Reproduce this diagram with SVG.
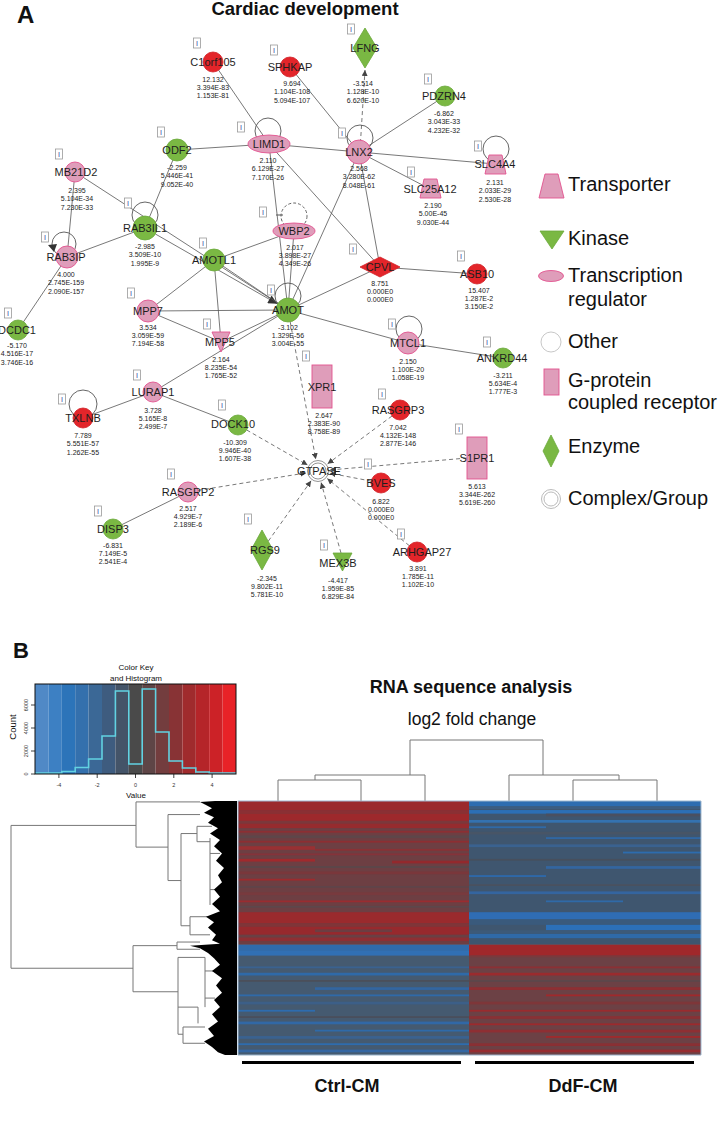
<svg xmlns="http://www.w3.org/2000/svg" xmlns:xlink="http://www.w3.org/1999/xlink" width="718" height="1122" viewBox="0 0 718 1122">
<style>
text{font-family:"Liberation Sans",Arial,sans-serif}
.lbl{font-size:11px;fill:#1e1e1e;text-anchor:middle}
.val{font-size:7px;fill:#222;text-anchor:middle}
.red{fill:#e3252a;stroke:#d02026;stroke-width:0.8}
.grn{fill:#7ab843;stroke:#6aa83a;stroke-width:0.8}
.pnk{fill:#df9dba;stroke:#e2528e;stroke-width:0.9}
.loop{fill:none;stroke:#555;stroke-width:0.9}
.e{stroke:#555;stroke-width:0.8;fill:none}
.d{stroke-dasharray:4 3}
.leg{font-size:20px;fill:#111}
.dg{stroke:#777;stroke-width:1;fill:none;vector-effect:non-scaling-stroke}
</style>
<defs>
<g id="ib"><rect x="0" y="0" width="7" height="10" fill="#fff" stroke="#9a9a9a" stroke-width="0.8"/><text x="3.5" y="8" font-size="7" fill="#2b3a9a" text-anchor="middle">I</text></g>
<marker id="ah" viewBox="0 0 10 10" refX="10" refY="5" markerWidth="6" markerHeight="6" orient="auto" markerUnits="userSpaceOnUse"><path d="M0,0 L10,5 L0,10 z" fill="#444"/></marker>
<marker id="ah2" viewBox="0 0 10 10" refX="10" refY="5" markerWidth="10" markerHeight="9" orient="auto" markerUnits="userSpaceOnUse"><path d="M0,0 L10,5 L0,10 z" fill="#333"/></marker>
</defs>
<rect width="718" height="1122" fill="#fff"/>

<text x="17" y="23" font-size="24" font-weight="bold" fill="#111">A</text>
<text x="305" y="15" font-size="18.5" font-weight="bold" fill="#111" text-anchor="middle">Cardiac development</text>

<g id="connectors">
<line class="e" x1="213" y1="62" x2="269" y2="144"/>
<line class="e" x1="290" y1="67" x2="359" y2="152"/>
<line class="e" x1="445" y1="96" x2="359" y2="152"/>
<line class="e" x1="359" y1="152" x2="430" y2="189"/>
<line class="e" x1="359" y1="152" x2="495" y2="164"/>
<line class="e" x1="177" y1="150" x2="269" y2="144"/>
<line class="e" x1="269" y1="144" x2="359" y2="152"/>
<line class="e" x1="177" y1="150" x2="145" y2="228"/>
<line class="e" x1="75" y1="172" x2="67" y2="257"/>
<line class="e" x1="75" y1="172" x2="288" y2="310"/>
<line class="e" x1="145" y1="228" x2="67" y2="257"/>
<line class="e" x1="155.4" y1="234" x2="277.2" y2="303.8" marker-end="url(#ah2)"/>
<line class="e" x1="67" y1="257" x2="18" y2="330"/>
<line class="e" x1="214" y1="260" x2="288" y2="310"/>
<line class="e" x1="214" y1="260" x2="148" y2="311"/>
<line class="e" x1="214" y1="260" x2="221" y2="342"/>
<line class="e" x1="148" y1="311" x2="221" y2="342"/>
<line class="e" x1="148" y1="311" x2="288" y2="310"/>
<line class="e" x1="221" y1="342" x2="288" y2="310"/>
<line class="e" x1="153" y1="392" x2="288" y2="310"/>
<line class="e" x1="83" y1="418" x2="153" y2="392"/>
<line class="e" x1="153" y1="392" x2="238" y2="425"/>
<line class="e" x1="269" y1="144" x2="288" y2="310"/>
<line class="e" x1="269" y1="144" x2="380" y2="267"/>
<line class="e" x1="359" y1="152" x2="288" y2="310"/>
<line class="e" x1="359" y1="152" x2="380" y2="267"/>
<line class="e" x1="294" y1="231" x2="214" y2="260"/>
<line class="e" x1="294" y1="231" x2="288" y2="310"/>
<line class="e" x1="380" y1="267" x2="288" y2="310"/>
<line class="e" x1="380" y1="267" x2="477" y2="274"/>
<line class="e" x1="288" y1="310" x2="408" y2="343"/>
<line class="e" x1="408" y1="343" x2="503" y2="358"/>
<line class="e" x1="188" y1="492" x2="113" y2="529"/>
<line class="e d" x1="360" y1="150" x2="365" y2="70" marker-end="url(#ah)"/>
<line class="e d" x1="290.2" y1="321.8" x2="315.8" y2="459.2" marker-end="url(#ah)"/>
<line class="e d" x1="246.7" y1="430" x2="307.6" y2="465" marker-end="url(#ah)"/>
<line class="e d" x1="392" y1="416" x2="327.6" y2="463.8" marker-end="url(#ah)"/>
<line class="e d" x1="467" y1="458" x2="330" y2="470" marker-end="url(#ah)"/>
<line class="e d" x1="371.2" y1="481.1" x2="329.8" y2="473.2" marker-end="url(#ah)"/>
<line class="e d" x1="409.3" y1="545.7" x2="327.3" y2="478.6" marker-end="url(#ah)"/>
<line class="e d" x1="341" y1="553" x2="321.1" y2="482.6" marker-end="url(#ah)"/>
<line class="e d" x1="268.4" y1="541" x2="311.1" y2="480.8" marker-end="url(#ah)"/>
<line class="e d" x1="197.9" y1="490.4" x2="306.2" y2="472.9" marker-end="url(#ah)"/>
</g>

<g id="n-C1orf105"><circle class="red" cx="213" cy="62" r="10"/><text class="lbl" x="213" y="66">C1orf105</text><text class="val" x="213" y="81.5">12.132<tspan x="213" dy="8.4">3.394E-83</tspan><tspan x="213" dy="8.4">1.153E-81</tspan></text><use href="#ib" x="193.5" y="38"/></g>
<g id="n-SPHKAP"><circle class="red" cx="290" cy="67" r="10"/><text class="lbl" x="290" y="71">SPHKAP</text><text class="val" x="292" y="86">9.694<tspan x="292" dy="8.4">1.104E-108</tspan><tspan x="292" dy="8.4">5.094E-107</tspan></text><use href="#ib" x="270.5" y="45"/></g>
<g id="n-LFNG"><polygon class="grn" points="365,28 377,48 365,68 353,48"/><text class="lbl" x="365" y="52">LFNG</text><text class="val" x="363" y="86">-3.514<tspan x="363" dy="8.4">1.128E-10</tspan><tspan x="363" dy="8.4">6.620E-10</tspan></text><use href="#ib" x="347.5" y="24"/></g>
<g id="n-PDZRN4"><circle class="grn" cx="445" cy="96" r="10"/><text class="lbl" x="444" y="100">PDZRN4</text><text class="val" x="444" y="116">-6.862<tspan x="444" dy="8.4">3.043E-33</tspan><tspan x="444" dy="8.4">4.232E-32</tspan></text><use href="#ib" x="424.5" y="74"/></g>
<g id="n-LIMD1"><circle class="loop" cx="268" cy="131" r="13"/><ellipse class="pnk" cx="269" cy="144" rx="21" ry="9"/><text class="lbl" x="269" y="148">LIMD1</text><text class="val" x="268" y="163">2.110<tspan x="268" dy="8.4">6.129E-27</tspan><tspan x="268" dy="8.4">7.170E-26</tspan></text><use href="#ib" x="237.5" y="122"/></g>
<g id="n-LNX2"><circle class="loop" cx="360" cy="138" r="13"/><circle class="pnk" cx="359" cy="152" r="12"/><text class="lbl" x="359" y="156">LNX2</text><text class="val" x="359" y="171">2.568<tspan x="359" dy="8.4">3.280E-62</tspan><tspan x="359" dy="8.4">8.048E-61</tspan></text><use href="#ib" x="338.5" y="128"/></g>
<g id="n-ODF2"><circle class="grn" cx="177" cy="150" r="11"/><text class="lbl" x="177" y="154">ODF2</text><text class="val" x="177" y="170">-2.259<tspan x="177" dy="8.4">5.446E-41</tspan><tspan x="177" dy="8.4">9.052E-40</tspan></text><use href="#ib" x="157.5" y="127"/></g>
<g id="n-MB21D2"><circle class="pnk" cx="75" cy="172" r="10"/><text class="lbl" x="76" y="176">MB21D2</text><text class="val" x="77" y="193">2.395<tspan x="77" dy="8.4">5.104E-34</tspan><tspan x="77" dy="8.4">7.230E-33</tspan></text><use href="#ib" x="55.5" y="149"/></g>
<g id="n-SLC25A12"><polygon class="pnk" points="424,179 437,179 441,198 420,198"/><text class="lbl" x="430" y="193">SLC25A12</text><text class="val" x="433" y="208">2.190<tspan x="433" dy="8.4">5.00E-45</tspan><tspan x="433" dy="8.4">9.030E-44</tspan></text><use href="#ib" x="407.5" y="167"/></g>
<g id="n-SLC4A4"><circle class="loop" cx="496" cy="149" r="13"/><polygon class="pnk" points="489,155 502,155 506,174 485,174"/><text class="lbl" x="495" y="168">SLC4A4</text><text class="val" x="495" y="185">2.131<tspan x="495" dy="8.4">2.033E-29</tspan><tspan x="495" dy="8.4">2.530E-28</tspan></text><use href="#ib" x="474.5" y="141"/></g>
<g id="n-RAB3IL1"><circle class="loop" cx="145" cy="215" r="13"/><circle class="grn" cx="145" cy="228" r="12"/><text class="lbl" x="145" y="232">RAB3IL1</text><text class="val" x="145" y="249">-2.985<tspan x="145" dy="8.4">3.509E-10</tspan><tspan x="145" dy="8.4">1.995E-9</tspan></text><use href="#ib" x="124.5" y="198"/></g>
<g id="n-RAB3IP"><circle class="loop" cx="64" cy="244" r="12"/><polygon points="48,245 57,244 54,252" fill="#333"/><circle class="pnk" cx="67" cy="257" r="11"/><text class="lbl" x="66" y="261">RAB3IP</text><text class="val" x="66" y="277">4.000<tspan x="66" dy="8.4">2.745E-159</tspan><tspan x="66" dy="8.4">2.090E-157</tspan></text><use href="#ib" x="41.5" y="232"/></g>
<g id="n-DCDC1"><circle class="grn" cx="18" cy="330" r="10"/><text class="lbl" x="17" y="334">DCDC1</text><text class="val" x="17" y="348">-5.170<tspan x="17" dy="8.4">4.516E-17</tspan><tspan x="17" dy="8.4">3.746E-16</tspan></text><use href="#ib" x="4.5" y="308"/></g>
<g id="n-AMOTL1"><circle class="grn" cx="214" cy="260" r="11"/><text class="lbl" x="214" y="264">AMOTL1</text><use href="#ib" x="199.5" y="238"/></g>
<g id="n-WBP2"><circle class="loop" cx="294" cy="216" r="13" stroke-dasharray="3 2"/><line x1="276" y1="215" x2="283" y2="215" stroke="#555" stroke-width="1"/><ellipse class="pnk" cx="294" cy="231" rx="21" ry="8"/><text class="lbl" x="294" y="235">WBP2</text><text class="val" x="295" y="249.5">2.017<tspan x="295" dy="8.4">3.898E-27</tspan><tspan x="295" dy="8.4">4.349E-26</tspan></text><use href="#ib" x="259.5" y="207"/></g>
<g id="n-CPVL"><polygon class="red" points="360,267 380,257 400,267 380,277"/><text class="lbl" x="380" y="271">CPVL</text><text class="val" x="380" y="285.5">8.751<tspan x="380" dy="8.4">0.000E0</tspan><tspan x="380" dy="8.4">0.000E0</tspan></text><use href="#ib" x="349.5" y="244"/></g>
<g id="n-ASB10"><circle class="red" cx="477" cy="274" r="10"/><text class="lbl" x="477" y="278">ASB10</text><text class="val" x="479" y="292.5">15.407<tspan x="479" dy="8.4">1.287E-2</tspan><tspan x="479" dy="8.4">3.150E-2</tspan></text><use href="#ib" x="457.5" y="251"/></g>
<g id="n-AMOT"><circle class="loop" cx="288" cy="296" r="13"/><circle class="grn" cx="288" cy="310" r="12"/><text class="lbl" x="288" y="314">AMOT</text><text class="val" x="288" y="329.5">-3.102<tspan x="288" dy="8.4">1.329E-56</tspan><tspan x="288" dy="8.4">3.004E-55</tspan></text><use href="#ib" x="267.5" y="285"/></g>
<g id="n-MPP7"><circle class="pnk" cx="148" cy="311" r="11"/><text class="lbl" x="148" y="315">MPP7</text><text class="val" x="148" y="329.5">3.534<tspan x="148" dy="8.4">3.059E-59</tspan><tspan x="148" dy="8.4">7.194E-58</tspan></text><use href="#ib" x="127.5" y="288"/></g>
<g id="n-MPP5"><polygon class="pnk" points="212,332 230,332 221,352"/><text class="lbl" x="220" y="346">MPP5</text><text class="val" x="221" y="361.5">2.164<tspan x="221" dy="8.4">8.235E-54</tspan><tspan x="221" dy="8.4">1.765E-52</tspan></text><use href="#ib" x="203.5" y="319"/></g>
<g id="n-MTCL1"><circle class="loop" cx="409" cy="329" r="13"/><circle class="pnk" cx="408" cy="343" r="11"/><text class="lbl" x="408" y="347">MTCL1</text><text class="val" x="408" y="363.5">2.150<tspan x="408" dy="8.4">1.100E-20</tspan><tspan x="408" dy="8.4">1.058E-19</tspan></text><use href="#ib" x="388.5" y="319"/></g>
<g id="n-ANKRD44"><circle class="grn" cx="503" cy="358" r="10"/><text class="lbl" x="502" y="362">ANKRD44</text><text class="val" x="503" y="377.5">-3.211<tspan x="503" dy="8.4">5.634E-4</tspan><tspan x="503" dy="8.4">1.777E-3</tspan></text><use href="#ib" x="483.5" y="337"/></g>
<g id="n-XPR1"><rect class="pnk" x="312" y="365" width="20" height="43"/><text class="lbl" x="322" y="391">XPR1</text><text class="val" x="324" y="417.5">2.647<tspan x="324" dy="8.4">2.383E-90</tspan><tspan x="324" dy="8.4">8.758E-89</tspan></text><use href="#ib" x="302.5" y="351"/></g>
<g id="n-TXLNB"><circle class="loop" cx="83" cy="404" r="14"/><circle class="red" cx="83" cy="418" r="10"/><text class="lbl" x="83" y="422">TXLNB</text><text class="val" x="83" y="438">7.789<tspan x="83" dy="8.4">5.551E-57</tspan><tspan x="83" dy="8.4">1.262E-55</tspan></text><use href="#ib" x="58.5" y="394"/></g>
<g id="n-LURAP1"><circle class="pnk" cx="153" cy="392" r="10"/><text class="lbl" x="153" y="396">LURAP1</text><text class="val" x="153" y="412.5">3.728<tspan x="153" dy="8.4">5.165E-8</tspan><tspan x="153" dy="8.4">2.499E-7</tspan></text><use href="#ib" x="133.5" y="370"/></g>
<g id="n-DOCK10"><circle class="grn" cx="238" cy="425" r="10"/><text class="lbl" x="233" y="428">DOCK10</text><text class="val" x="235" y="444.5">-10.309<tspan x="235" dy="8.4">9.946E-40</tspan><tspan x="235" dy="8.4">1.607E-38</tspan></text><use href="#ib" x="218.5" y="400"/></g>
<g id="n-RASGRP3"><circle class="red" cx="400" cy="410" r="10"/><text class="lbl" x="398" y="414">RASGRP3</text><text class="val" x="398" y="429.5">7.042<tspan x="398" dy="8.4">4.132E-148</tspan><tspan x="398" dy="8.4">2.877E-146</tspan></text><use href="#ib" x="378.5" y="389"/></g>
<g id="n-S1PR1"><rect class="pnk" x="467" y="437" width="20" height="42"/><text class="lbl" x="477" y="462">S1PR1</text><text class="val" x="477" y="488.5">5.613<tspan x="477" dy="8.4">3.344E-262</tspan><tspan x="477" dy="8.4">5.619E-260</tspan></text><use href="#ib" x="455.5" y="424"/></g>
<g id="n-GTPASE"><circle cx="318" cy="471" r="10.5" fill="#fff" stroke="#888" stroke-width="0.9"/><circle cx="318" cy="471" r="8" fill="none" stroke="#888" stroke-width="0.9"/><text class="lbl" x="319" y="475">GTPASE</text></g>
<g id="n-BVES"><circle class="red" cx="381" cy="483" r="10"/><text class="lbl" x="381" y="487">BVES</text><text class="val" x="381" y="503.5">6.822<tspan x="381" dy="8.4">0.000E0</tspan><tspan x="381" dy="8.4">0.000E0</tspan></text><use href="#ib" x="364.5" y="459"/></g>
<g id="n-RASGRP2"><circle class="pnk" cx="188" cy="492" r="10"/><text class="lbl" x="188" y="496">RASGRP2</text><text class="val" x="188" y="510.5">2.517<tspan x="188" dy="8.4">4.929E-7</tspan><tspan x="188" dy="8.4">2.189E-6</tspan></text><use href="#ib" x="167.5" y="469"/></g>
<g id="n-DISP3"><circle class="grn" cx="113" cy="529" r="10"/><text class="lbl" x="113" y="533">DISP3</text><text class="val" x="113" y="547.5">-6.831<tspan x="113" dy="8.4">7.149E-5</tspan><tspan x="113" dy="8.4">2.541E-4</tspan></text><use href="#ib" x="94.5" y="506"/></g>
<g id="n-RGS9"><polygon class="grn" points="262,530 273,550 262,570 251,550"/><text class="lbl" x="265" y="554">RGS9</text><text class="val" x="267" y="580.5">-2.345<tspan x="267" dy="8.4">9.802E-11</tspan><tspan x="267" dy="8.4">5.781E-10</tspan></text><use href="#ib" x="244.5" y="514"/></g>
<g id="n-MEX3B"><polygon class="grn" points="333,553 352,553 342.5,571"/><text class="lbl" x="338" y="567">MEX3B</text><text class="val" x="338" y="582.5">-4.417<tspan x="338" dy="8.4">1.959E-85</tspan><tspan x="338" dy="8.4">6.829E-84</tspan></text><use href="#ib" x="320.5" y="540"/></g>
<g id="n-ARHGAP27"><circle class="red" cx="417" cy="552" r="10"/><text class="lbl" x="422" y="556">ARHGAP27</text><text class="val" x="418" y="570.5">3.891<tspan x="418" dy="8.4">1.785E-11</tspan><tspan x="418" dy="8.4">1.102E-10</tspan></text><use href="#ib" x="397.5" y="529"/></g>

<g id="legend">
<polygon class="pnk" points="545,174 558,174 564,198 539,198"/><text class="leg" x="568" y="191">Transporter</text>
<polygon class="grn" points="540,231 564,231 552,249"/><text class="leg" x="568" y="245">Kinase</text>
<ellipse class="pnk" cx="551" cy="276" rx="12.5" ry="5.5"/><text class="leg" x="568" y="282">Transcription</text><text class="leg" x="568" y="306">regulator</text>
<circle cx="551" cy="342" r="10" fill="#fff" stroke="#c8c8c8"/><text class="leg" x="568" y="348">Other</text>
<rect class="pnk" x="544" y="369" width="15" height="26"/><text class="leg" x="568" y="387">G-protein</text><text class="leg" x="568" y="409">coupled receptor</text>
<polygon class="grn" points="551,435 559,451 551,467 543,451"/><text class="leg" x="568" y="453">Enzyme</text>
<circle cx="551" cy="499" r="9.5" fill="#fff" stroke="#bbb"/><circle cx="551" cy="499" r="7" fill="none" stroke="#bbb"/><text class="leg" x="568" y="505">Complex/Group</text>
</g>

<g id="panelB">
<text x="13" y="658" font-size="22" font-weight="bold" fill="#111">B</text>
<text x="136" y="670" font-size="8" fill="#111" text-anchor="middle">Color  Key</text>
<text x="136" y="681" font-size="8" fill="#111" text-anchor="middle">and Histogram</text>
<g id="colorkey">
<rect x="35" y="684" width="13.4" height="90" fill="#5089c6"/>
<rect x="48.4" y="684" width="13.4" height="90" fill="#3d80c3"/>
<rect x="61.8" y="684" width="13.4" height="90" fill="#2c74b9"/>
<rect x="75.2" y="684" width="13.4" height="90" fill="#3470ad"/>
<rect x="88.6" y="684" width="13.4" height="90" fill="#3b6896"/>
<rect x="102" y="684" width="13.4" height="90" fill="#3e5c7f"/>
<rect x="115.4" y="684" width="13.4" height="90" fill="#445468"/>
<rect x="128.8" y="684" width="13.4" height="90" fill="#4a4a4a"/>
<rect x="142.2" y="684" width="13.4" height="90" fill="#5e4546"/>
<rect x="155.6" y="684" width="13.4" height="90" fill="#733d3e"/>
<rect x="169" y="684" width="13.4" height="90" fill="#883335"/>
<rect x="182.4" y="684" width="13.4" height="90" fill="#a02b2d"/>
<rect x="195.8" y="684" width="13.4" height="90" fill="#b52529"/>
<rect x="209.2" y="684" width="13.4" height="90" fill="#cc2227"/>
<rect x="222.6" y="684" width="13.4" height="90" fill="#e82227"/>
<path d="M35,773 H61.8 V771.5 H75.2 V767.5 H88.6 V759 H102 V736 H115.4 V691 H128.8 V764 H142.2 V689 H155.6 V732 H169 V761 H182.4 V768 H195.8 V772 H209.2 V773 H236" fill="none" stroke="#62d2e2" stroke-width="1.6"/>
<rect x="35" y="684" width="201" height="90" fill="none" stroke="#111" stroke-width="1"/>
<path d="M35,774 H31 M35,751 H31 M35,728 H31 M35,705 H31 M58.9,774 V778 M97.2,774 V778 M135.5,774 V778 M173.8,774 V778 M212.1,774 V778" stroke="#111" stroke-width="0.8"/>
<g font-size="5.5" fill="#333" text-anchor="middle">
<text transform="translate(28,774) rotate(-90)">0</text>
<text transform="translate(28,751) rotate(-90)">2000</text>
<text transform="translate(28,728) rotate(-90)">4000</text>
<text transform="translate(28,705) rotate(-90)">6000</text>
<text x="58.9" y="787">-4</text><text x="97.2" y="787">-2</text><text x="135.5" y="787">0</text><text x="173.8" y="787">2</text><text x="212.1" y="787">4</text>
</g>
<text transform="translate(16,727) rotate(-90)" font-size="9.5" fill="#111" text-anchor="middle">Count</text>
<text x="136" y="798" font-size="8" fill="#111" text-anchor="middle">Value</text>
</g>

<text x="471" y="693" font-size="18" font-weight="bold" fill="#111" text-anchor="middle">RNA sequence analysis</text>
<text x="472" y="725" font-size="17.5" fill="#111" text-anchor="middle">log2 fold change</text>

<path class="dg" d="M410,740 H543 M410,740 V775 M315,775 H425 M425,775 V801 M315,775 V780 M278,780 H361 M278,780 V801 M361,780 V801 M543,740 V775 M509,775 H619 M509,775 V801 M619,775 V780 M573,780 H657 M573,780 V801 M657,780 V801"/>

<g id="heatmap" transform="matrix(1 0 0 0.904 0 76)">
<rect x="238" y="802" width="231" height="159" fill="#6d3f43"/>
<rect x="238" y="802" width="231" height="10" fill="#9b2a2d"/>
<rect x="238" y="812" width="231" height="4" fill="#8a3034"/>
<rect x="238" y="816" width="231" height="8" fill="#9d292c"/>
<rect x="238" y="824" width="231" height="3" fill="#7b383b"/>
<rect x="238" y="827" width="231" height="5" fill="#962b2e"/>
<rect x="238" y="835" width="231" height="2" fill="#8c2f33"/>
<rect x="238" y="840" width="231" height="3" fill="#5e4649"/>
<rect x="238" y="846" width="231" height="2" fill="#8d2e32"/>
<rect x="238" y="852" width="77" height="4" fill="#993033"/>
<rect x="315" y="855" width="154" height="2" fill="#8a3135"/>
<rect x="238" y="860" width="231" height="2" fill="#85333a"/>
<rect x="238" y="866" width="77" height="3" fill="#a02a2d"/>
<rect x="392" y="868" width="77" height="3" fill="#93292d"/>
<rect x="238" y="874" width="231" height="2" fill="#5b474b"/>
<rect x="238" y="880" width="231" height="3" fill="#7a373b"/>
<rect x="238" y="888" width="77" height="2" fill="#9c2b2e"/>
<rect x="238" y="896" width="231" height="2" fill="#5f444a"/>
<rect x="238" y="903" width="231" height="3" fill="#783a3e"/>
<rect x="238" y="912" width="231" height="2" fill="#9a2c30"/>
<rect x="238" y="918" width="231" height="2" fill="#5d474b"/>
<rect x="238" y="925" width="231" height="12" fill="#9a2a2d"/>
<rect x="238" y="937" width="231" height="4" fill="#7f3538"/>
<rect x="238" y="941" width="231" height="9" fill="#97292d"/>
<rect x="315" y="944" width="77" height="3" fill="#6c3e42"/>
<rect x="238" y="950" width="231" height="3" fill="#6a4044"/>
<rect x="238" y="953" width="231" height="4" fill="#8e2f33"/>
<rect x="238" y="957" width="231" height="4" fill="#6e3e42"/>

<rect x="469" y="802" width="232" height="159" fill="#3f566f"/>
<rect x="469" y="802" width="232" height="6" fill="#2e6db0"/>
<rect x="469" y="808" width="232" height="3" fill="#3d5d80"/>
<rect x="469" y="812" width="232" height="4" fill="#2c6fb5"/>
<rect x="546" y="816" width="155" height="3" fill="#4a5060"/>
<rect x="469" y="823" width="232" height="3" fill="#3472b0"/>
<rect x="469" y="830" width="77" height="2" fill="#2f6aa8"/>
<rect x="469" y="836" width="232" height="3" fill="#485566"/>
<rect x="546" y="842" width="155" height="2" fill="#3068a5"/>
<rect x="469" y="850" width="232" height="3" fill="#3a6290"/>
<rect x="623" y="858" width="78" height="2" fill="#2d6cae"/>
<rect x="469" y="866" width="232" height="2" fill="#474f5d"/>
<rect x="546" y="874" width="155" height="3" fill="#3366a0"/>
<rect x="469" y="884" width="77" height="2" fill="#2e6aab"/>
<rect x="469" y="894" width="232" height="2" fill="#4a5160"/>
<rect x="469" y="902" width="232" height="3" fill="#3465a0"/>
<rect x="546" y="912" width="77" height="2" fill="#2f6aa8"/>
<rect x="469" y="925" width="232" height="8" fill="#2f6db4"/>
<rect x="469" y="933" width="232" height="6" fill="#3a5a7c"/>
<rect x="546" y="939" width="155" height="6" fill="#2c70b8"/>
<rect x="469" y="945" width="232" height="4" fill="#3d5a78"/>
<rect x="469" y="949" width="232" height="5" fill="#2f6aa8"/>
<rect x="469" y="954" width="232" height="7" fill="#3e5670"/>

<rect x="238" y="961" width="231" height="122" fill="#455a70"/>
<rect x="238" y="961" width="231" height="6" fill="#2f6bab"/>
<rect x="238" y="967" width="231" height="6" fill="#3170b5"/>
<rect x="238" y="985" width="231" height="2" fill="#3a6290"/>
<rect x="238" y="992" width="231" height="3" fill="#2f6aa8"/>
<rect x="238" y="1000" width="231" height="2" fill="#4b4f5a"/>
<rect x="315" y="1008" width="154" height="3" fill="#3366a0"/>
<rect x="238" y="1016" width="231" height="2" fill="#2f6aa8"/>
<rect x="238" y="1024" width="231" height="3" fill="#3c5f88"/>
<rect x="238" y="1033" width="77" height="2" fill="#2e6cae"/>
<rect x="238" y="1040" width="231" height="2" fill="#4a4f5c"/>
<rect x="238" y="1046" width="231" height="3" fill="#3168a6"/>
<rect x="315" y="1055" width="154" height="2" fill="#2f6aa8"/>
<rect x="238" y="1062" width="231" height="3" fill="#3a6290"/>
<rect x="238" y="1070" width="231" height="2" fill="#2e6cae"/>
<rect x="238" y="1077" width="231" height="3" fill="#3466a2"/>

<rect x="469" y="961" width="232" height="122" fill="#6c4145"/>
<rect x="469" y="961" width="232" height="12" fill="#a0282b"/>
<rect x="469" y="973" width="232" height="2" fill="#7a3a3d"/>
<rect x="469" y="985" width="232" height="2" fill="#8c3034"/>
<rect x="469" y="992" width="232" height="3" fill="#9a2b2e"/>
<rect x="469" y="1000" width="232" height="2" fill="#5c474b"/>
<rect x="469" y="1008" width="232" height="3" fill="#8e2f33"/>
<rect x="546" y="1016" width="155" height="2" fill="#a0292c"/>
<rect x="469" y="1024" width="232" height="3" fill="#7e3639"/>
<rect x="469" y="1033" width="232" height="2" fill="#9a2b2e"/>
<rect x="469" y="1040" width="232" height="3" fill="#8a3034"/>
<rect x="469" y="1048" width="232" height="2" fill="#9c2a2d"/>
<rect x="469" y="1055" width="232" height="3" fill="#8e2f33"/>
<rect x="546" y="1062" width="155" height="2" fill="#a0292c"/>
<rect x="469" y="1070" width="232" height="3" fill="#8a3034"/>
<rect x="469" y="1077" width="232" height="3" fill="#962c30"/>
<rect x="238" y="802" width="463" height="281" fill="none" stroke="#9fb8d0" stroke-width="1" vector-effect="non-scaling-stroke"/>
</g>

<g id="rowdendro" transform="matrix(1 0 0 0.904 0 76)">
<path class="dg" d="M11,829 V987 M11,829 H136 M11,987 H133 M136,803 V853 M136,803 H200 M136,853 H168 M168,817 V890 M168,817 H200 M168,890 H181 M181,838 V940 M181,838 H197 M181,940 H190 M190,930 V950 M190,930 H210 M190,950 H210 M197,830 V847 M197,830 H212 M197,847 H210 M210,843 V917 M210,860 H220 M210,900 H218 M133,962 V1013 M133,962 H177 M133,1013 H178 M177,958 V966 M177,958 H200 M177,966 H200 M178,975 V1060 M178,975 H205 M178,1060 H183 M183,1052 V1070 M183,1052 H205 M183,1070 H205 M205,975 V1030 M205,990 H215 M205,1020 H215 M198,1030 V1048 M178,1030 H198"/>
<polygon fill="#000" points="237,802 215,802 200,803 205,806 212,810 204,815 214,820 208,826 218,832 210,838 220,845 214,852 222,860 216,868 224,876 218,884 222,892 214,900 220,908 212,916 220,924 206,930 214,936 208,942 216,950 212,956 220,960 190,962 200,965 208,970 214,976 220,983 212,990 222,998 216,1006 222,1014 214,1022 220,1030 212,1038 218,1046 208,1054 214,1062 204,1068 212,1074 218,1080 225,1083 237,1083"/>
</g>

<rect x="242" y="1061" width="219" height="3" fill="#000"/>
<rect x="475" y="1061" width="219" height="3" fill="#000"/>
<text x="347" y="1092" font-size="18" font-weight="bold" fill="#111" text-anchor="middle">Ctrl-CM</text>
<text x="583" y="1092" font-size="18" font-weight="bold" fill="#111" text-anchor="middle">DdF-CM</text>
</g>
</svg>
